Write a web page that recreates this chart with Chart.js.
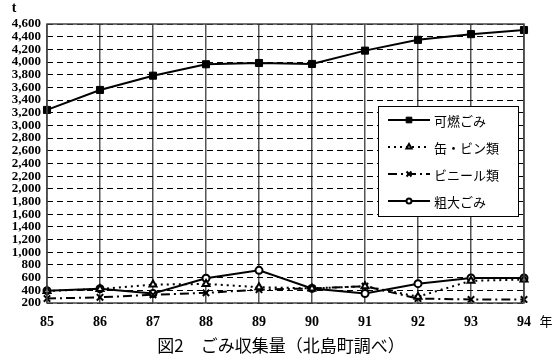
<!DOCTYPE html>
<html>
<head>
<meta charset="utf-8">
<script src="https://cdn.jsdelivr.net/npm/chart.js@4/dist/chart.umd.min.js"></script>
<style>
  html, body { margin: 0; padding: 0; background: #fff; }
  #wrap { width: 554px; height: 362px; }
</style>
</head>
<body>
<div id="wrap"><canvas id="myChart" width="554" height="362"></canvas></div>
<script>
// data (t per year)
const years = ['85', '86', '87', '88', '89', '90', '91', '92', '93', '94'];
const burnable = [3245, 3560, 3785, 3965, 3985, 3970, 4180, 4350, 4440, 4505];
const cansBottles = [390, 420, 490, 500, 450, 430, 465, 300, 550, 570];
const vinyl = [270, 290, 330, 360, 410, 430, 465, 270, 255, 255];
const bulky = [395, 425, 350, 590, 715, 430, 350, 505, 595, 595];
const yTicks = { min: 200, max: 4600, step: 200 };

const seriesNames = ['可燃ごみ', '缶・ビン類', 'ビニール類', '粗大ごみ'];
const serif = '"Liberation Serif", "DejaVu Serif", serif';
const jp = '"Noto Sans CJK JP", sans-serif';

// legend box drawn inside the plot, plus unit labels, caption and frame
const extras = {
    id: 'extras',
    afterDraw(chart) {
        const ctx = chart.ctx;
        const a = chart.chartArea;
        ctx.save();

        // plot frame
        ctx.strokeStyle = '#444';
        ctx.lineWidth = 1.5;
        ctx.setLineDash([]);
        ctx.strokeRect(a.left, a.top, a.right - a.left, a.bottom - a.top);

        // unit labels
        ctx.fillStyle = '#000';
        ctx.font = 'bold 14px ' + serif;
        ctx.textAlign = 'center';
        ctx.textBaseline = 'middle';
        ctx.fillText('t', 14, 8);
        ctx.font = '13px ' + jp;
        ctx.fillText('年', 546, 321);

        // caption
        ctx.font = '17px ' + jp;
        ctx.fillText('図2　ごみ収集量（北島町調べ）', 281, 346);

        // legend
        const bx = 378, by = 106, bw = 140, bh = 110;
        ctx.fillStyle = '#fff';
        ctx.fillRect(bx, by, bw, bh);
        ctx.strokeStyle = '#000';
        ctx.lineWidth = 1;
        ctx.strokeRect(bx + 0.5, by + 0.5, bw, bh);

        chart.data.datasets.forEach((ds, i) => {
            const y = by + 14 + i * 27;
            ctx.strokeStyle = '#000';
            ctx.lineWidth = ds.borderWidth;
            ctx.setLineDash(ds.borderDash || []);
            ctx.beginPath();
            ctx.moveTo(bx + 10, y);
            ctx.lineTo(bx + 52, y);
            ctx.stroke();
            ctx.setLineDash([]);
            ctx.fillStyle = ds.backgroundColor;
            ctx.strokeStyle = '#000';
            ctx.lineWidth = ds.pointBorderWidth;
            Chart.helpers.drawPoint(ctx, {
                pointStyle: ds.pointStyle,
                radius: ds.pointRadius - 1,
                borderWidth: ds.pointBorderWidth
            }, bx + 31, y);
            ctx.fillStyle = '#000';
            ctx.font = '13px ' + jp;
            ctx.textAlign = 'left';
            ctx.fillText(ds.label, bx + 56, y + 1);
        });
        ctx.restore();
    }
};

const ctx = document.getElementById('myChart').getContext('2d');
new Chart(ctx, {
    type: 'line',
    data: {
        labels: years,
        datasets: [{
            label: seriesNames[0],
            data: burnable,
            borderColor: '#000',
            backgroundColor: '#000',
            borderWidth: 2,
            pointStyle: 'rect',
            pointRadius: 5,
            pointBorderWidth: 1,
        }, {
            label: seriesNames[1],
            data: cansBottles,
            borderColor: '#000',
            backgroundColor: '#fff',
            borderWidth: 2,
            borderDash: [2, 4],
            pointStyle: 'triangle',
            pointRadius: 4,
            pointBorderWidth: 2,
        }, {
            label: seriesNames[2],
            data: vinyl,
            borderColor: '#000',
            backgroundColor: '#000',
            borderWidth: 2,
            borderDash: [9, 4, 2, 4],
            pointStyle: 'crossRot',
            pointRadius: 4.5,
            pointBorderWidth: 2,
        }, {
            label: seriesNames[3],
            data: bulky,
            borderColor: '#000',
            backgroundColor: '#fff',
            borderWidth: 2,
            pointStyle: 'circle',
            pointRadius: 3.5,
            pointBorderWidth: 2,
        }],
    },
    options: {
        responsive: false,
        animation: false,
        layout: { padding: { top: 24, right: 30, left: 0, bottom: 0 } },
        plugins: {
            legend: { display: false },
            tooltip: { enabled: false },
        },
        scales: {
            x: {
                grid: { color: '#555', lineWidth: 1.5, drawTicks: false },
                border: { display: false },
                ticks: {
                    color: '#000',
                    padding: 11,
                    maxRotation: 0,
                    font: { family: serif, size: 14, weight: 'bold' },
                },
                afterFit(scale) { scale.height = 59; },
            },
            y: {
                min: yTicks.min,
                max: yTicks.max,
                grid: { color: '#000', lineWidth: 1, drawTicks: false },
                border: { display: false, dash: [6, 4] },
                ticks: {
                    stepSize: yTicks.step,
                    autoSkip: false,
                    color: '#000',
                    padding: 6,
                    font: { family: serif, size: 13, weight: 'bold', lineHeight: 1 },
                    callback: v => v.toLocaleString('en-US'),
                },
                afterFit(scale) { scale.width = 47; },
            },
        },
    },
    plugins: [extras],
});
</script>
</body>
</html>
